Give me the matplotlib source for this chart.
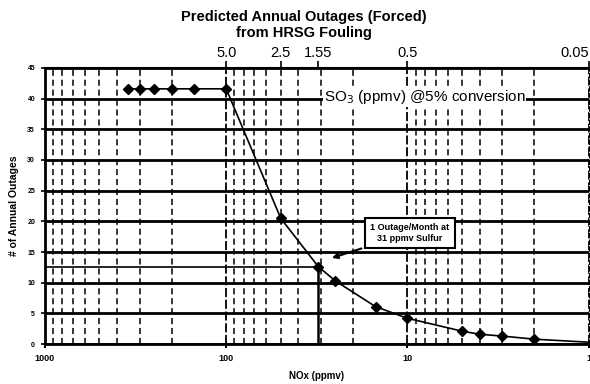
import matplotlib.pyplot as plt
import numpy as np

# NOx (ppmv) vs predicted annual forced outages
nox = [350, 300, 250, 200, 150, 100, 50, 31, 25, 15, 10, 5, 4, 3, 2, 1]
outages = [41.6, 41.6, 41.6, 41.6, 41.6, 41.6, 20.5, 12.6, 10.3, 6.1, 4.2,
           2.1, 1.6, 1.3, 0.8, 0.3]

# secondary axis: SO3 at 5% conversion
conversion = 0.05
so3_ticks = [5.0, 2.5, 1.55, 0.5, 0.05]
so3_labels = ['5.0', '2.5', '1.55', '0.5', '0.05']

one_per_month = 12.6
sulfur_ppmv = 31

plt.rcParams['font.family'] = ['Liberation Sans', 'DejaVu Sans']

fig = plt.figure(figsize=(5.9, 3.84), dpi=100)
ax = fig.add_axes([0.076, 0.104, 0.922, 0.719])

ax.set_xscale('log')
ax.set_xlim(1000, 1)
ax.set_ylim(0, 45)
ax.set_yticks(np.arange(0, 46, 5))

# grid
ax.grid(True, which='major', axis='x', color='black', lw=1.3,
        linestyle=(0, (5, 1.5)))
ax.grid(True, which='minor', axis='x', color='black', lw=1.1,
        linestyle=(0, (4, 2.5)))
ax.grid(True, which='major', axis='y', color='black', lw=2)
ax.set_axisbelow(True)

# 1 outage/month marker lines
ax.plot([1000, sulfur_ppmv], [one_per_month, one_per_month], color='black', lw=1.2)
ax.plot([sulfur_ppmv, sulfur_ppmv], [0, one_per_month], color='black', lw=1.8)

ax.plot(nox, outages, color='black', lw=1.2, marker='D', markersize=5,
        markevery=list(range(len(nox) - 1)), zorder=5)

for side in ['left', 'bottom']:
    ax.spines[side].set_linewidth(2)
ax.spines['top'].set_linewidth(1.5)
ax.spines['right'].set_linewidth(0.8)
ax.spines['right'].set_linestyle((0, (4, 2)))

ax.set_xticks([1000, 100, 10, 1])
ax.set_xticklabels(['1000', '100', '10', '1'])
ax.tick_params(axis='x', which='major', length=3, width=1.5, labelsize=6.5, pad=4)
ax.tick_params(axis='x', which='minor', length=0)
ax.tick_params(axis='y', length=3, width=1.2, labelsize=5, pad=4)
for lbl in ax.get_xticklabels() + ax.get_yticklabels():
    lbl.set_fontweight('bold')

ax.set_xlabel('NOx (ppmv)', fontsize=7, fontweight='bold', labelpad=6)
ax.set_ylabel('# of Annual Outages', fontsize=7.5, fontweight='bold', labelpad=6)

# top SO3 axis
top = ax.twiny()
top.set_xscale('log')
top.set_xlim(ax.get_xlim())
top.set_xticks([s / conversion for s in so3_ticks])
top.set_xticklabels(so3_labels, fontsize=10.5)
top.get_xticklabels()[-1].set_horizontalalignment('right')
top.tick_params(axis='x', which='major', length=5, width=1.2, pad=1)
top.tick_params(axis='x', which='minor', length=0)
for s in top.spines.values():
    s.set_visible(False)

ax.text(29, 40.2, 'SO$_3$ (ppmv) @5% conversion', fontsize=11,
        va='center', ha='left', zorder=6,
        bbox=dict(facecolor='white', edgecolor='none', pad=0.5))

ax.annotate('1 Outage/Month at\n31 ppmv Sulfur', xy=(27, 13.9), xytext=(9.7, 18.1),
            fontsize=6.5, fontweight='bold', ha='center', va='center', zorder=7,
            bbox=dict(boxstyle='square,pad=0.6', facecolor='white',
                      edgecolor='black', lw=1.5),
            arrowprops=dict(arrowstyle='-|>', color='black', lw=1.5,
                            mutation_scale=8))

fig.suptitle('Predicted Annual Outages (Forced)\nfrom HRSG Fouling', fontsize=10.5,
             fontweight='bold', x=0.515, y=0.975, linespacing=1.2)

fig.savefig('out.png', dpi=100)
